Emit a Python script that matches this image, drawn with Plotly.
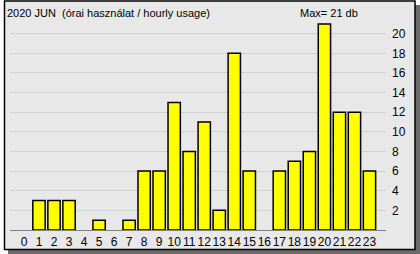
import plotly.graph_objects as go

hours = [str(h) for h in range(24)]
usage = [0, 3, 3, 3, 0, 1, 0, 1, 6, 6, 13, 8, 11, 2, 18, 6, 0, 6, 7, 8, 21, 12, 12, 6]
y_ticks = [2, 4, 6, 8, 10, 12, 14, 16, 18, 20]
title_text = "2020 JUN  (órai használat / hourly usage)"
max_text = "Max= 21 db"

W, H = 420, 254
L, R, T, B = 10, 34, 18, 24
PW, PH = W - L - R, H - T - B

def px(x):
    return (x - L) / PW

def py(y):
    return (H - B - y) / PH

outline_widths = [1.5 if v > 0 else 0 for v in usage]

fig = go.Figure()
fig.add_trace(go.Bar(
    x=hours, y=usage, width=0.82,
    marker=dict(color="#ffff00", line=dict(color="#000000", width=outline_widths)),
    hoverinfo="skip",
))

shapes = [
    dict(type="rect", xref="paper", yref="paper", layer="below",
         x0=px(8), x1=px(420), y0=py(254), y1=py(5),
         fillcolor="#6b6b6b", line=dict(width=0)),
    dict(type="rect", xref="paper", yref="paper", layer="below",
         x0=px(4.5), x1=px(415), y0=py(249.5), y1=py(1),
         fillcolor="#e8e8e8", line=dict(color="#000000", width=1.5)),
]

fig.update_layout(
    width=W, height=H,
    margin=dict(l=L, r=R, t=T, b=B, pad=0, autoexpand=False),
    paper_bgcolor="#ffffff",
    plot_bgcolor="rgba(0,0,0,0)",
    showlegend=False,
    font=dict(family="Liberation Sans, Arial, sans-serif", size=12, color="#000000"),
    shapes=shapes,
    xaxis=dict(
        type="category", range=[-0.93, 24.1], automargin=False,
        showgrid=False, zeroline=False,
        showline=True, linecolor="#808080", linewidth=1,
        ticks="", tickangle=0, tickfont=dict(size=12), ticklabelstandoff=1,
        fixedrange=True,
    ),
    yaxis=dict(
        side="right", range=[0, 21.6], automargin=False,
        tickvals=y_ticks, ticktext=[str(v) for v in y_ticks],
        showgrid=True, gridcolor="#d0d0d0", gridwidth=1,
        zeroline=False, showline=False, ticks="",
        tickfont=dict(size=12), ticklabelstandoff=5,
        fixedrange=True,
    ),
    annotations=[
        dict(text=title_text, xref="paper", yref="paper", x=px(5), y=py(13),
             xanchor="left", yanchor="middle", showarrow=False,
             font=dict(size=11, color="#000000")),
        dict(text=max_text, xref="paper", yref="paper", x=px(329), y=py(13),
             xanchor="center", yanchor="middle", showarrow=False,
             font=dict(size=11, color="#000000")),
    ],
)

fig.write_html("out.html")
